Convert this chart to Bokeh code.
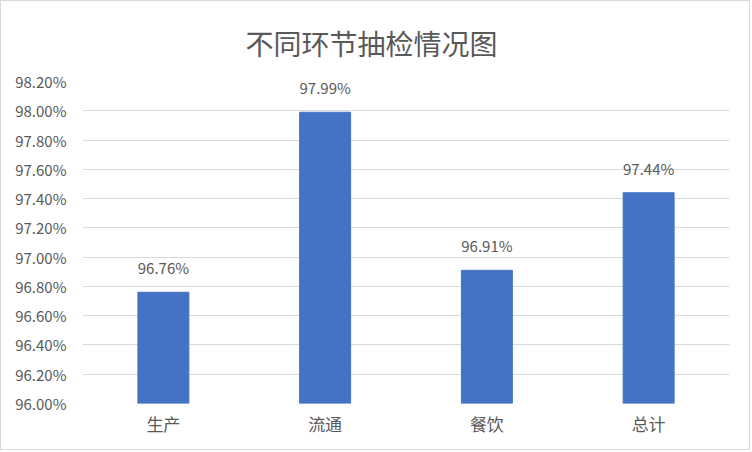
from bokeh.plotting import figure
from bokeh.models import ColumnDataSource, PrintfTickFormatter, FixedTicker, Range1d
from bokeh.core.properties import value
from bokeh.embed import file_html
from bokeh.resources import INLINE

categories = ["生产", "流通", "餐饮", "总计"]
rates = [96.76, 97.99, 96.91, 97.44]
labels = ["96.76%", "97.99%", "96.91%", "97.44%"]
yticks = [96.0, 96.2, 96.4, 96.6, 96.8, 97.0, 97.2, 97.4, 97.6, 97.8, 98.0, 98.2]

FONT = "Noto Sans CJK SC"
GRAY = "#595959"

src = ColumnDataSource(dict(cat=categories, rate=rates, label=labels))

p = figure(x_range=categories, y_range=Range1d(96.0, 98.2), width=750, height=450,
           output_backend="svg", toolbar_location=None,
           min_border_left=81, min_border_right=22, min_border_top=80, min_border_bottom=48,
           title="不同环节抽检情况图")
p.title.align = "left"
p.title.offset = 163
p.title.text_font = FONT
p.title.text_font_size = "28px"
p.title.text_font_style = "normal"
p.title.text_color = GRAY
p.title.standoff = 37
p.styles = {"border": "1px solid #D9D9D9"}

p.vbar(x="cat", top="rate", bottom=96.0, width=0.315, color="#4472C4", source=src)
p.text(x="cat", y="rate", text="label", source=src, text_align="center",
       text_baseline="bottom", y_offset=-14, text_font=value(FONT),
       text_font_size="15px", text_color=GRAY)

p.yaxis.ticker = FixedTicker(ticks=yticks)
p.yaxis.formatter = PrintfTickFormatter(format="%.2f%%")
for ax in (p.xaxis, p.yaxis):
    ax.axis_line_color = None
    ax.major_tick_line_color = None
    ax.minor_tick_line_color = None
    ax.major_label_text_font = FONT
    ax.major_label_text_color = GRAY
p.yaxis.major_label_text_font_size = "15px"
p.xaxis.major_label_text_font_size = "17px"
p.yaxis.major_label_standoff = 10
p.xaxis.major_label_standoff = 1

p.xgrid.grid_line_color = None
p.ygrid.grid_line_color = "#D9D9D9"
p.ygrid.grid_line_width = 1
p.outline_line_color = None
p.border_fill_color = "white"
p.background_fill_color = "white"

open("out.html", "w").write(file_html(p, INLINE))
